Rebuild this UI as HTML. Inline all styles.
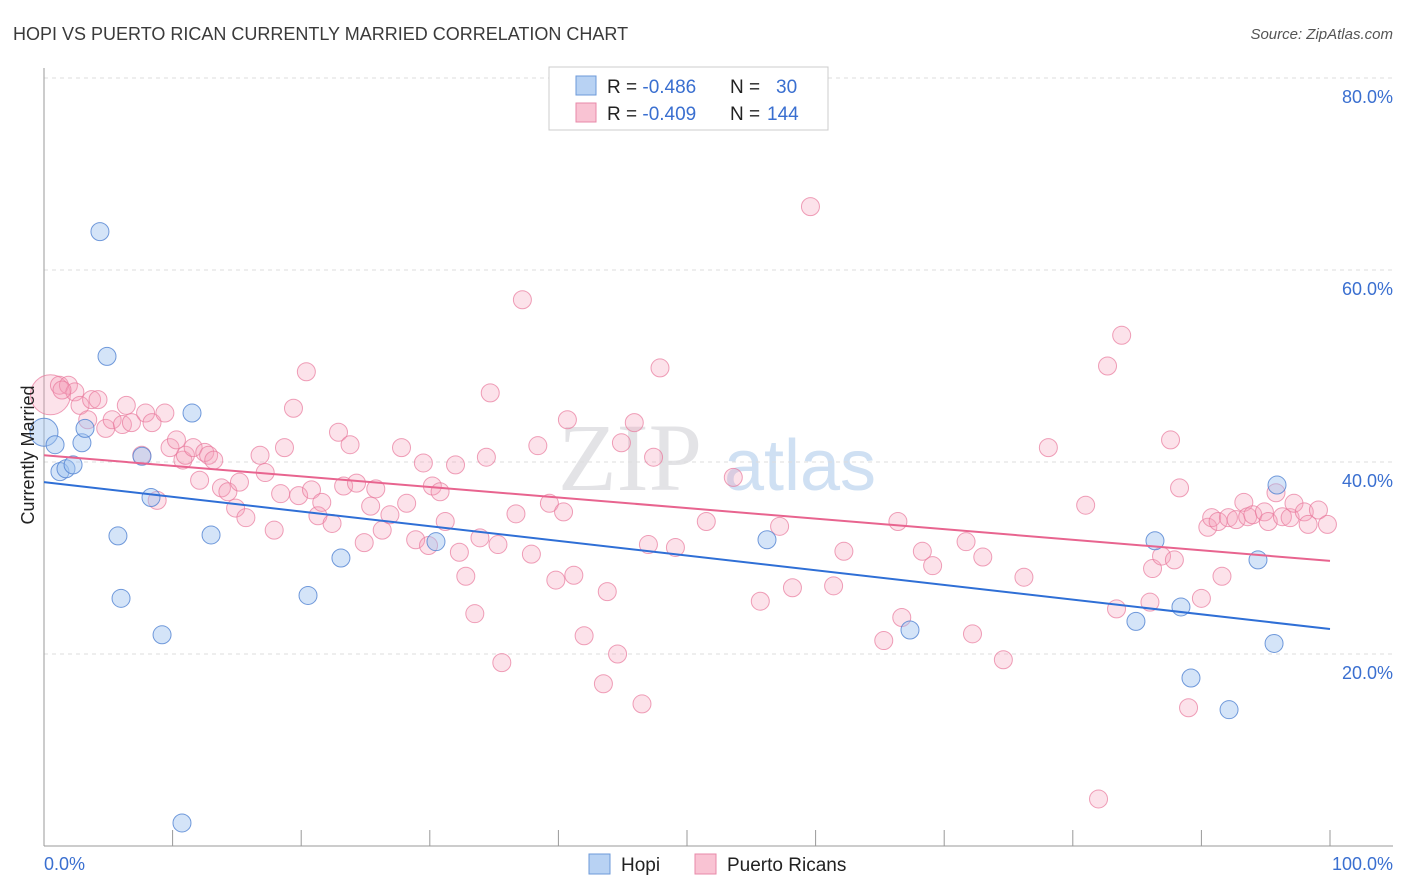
<!DOCTYPE html>
<html><head><meta charset="utf-8"><style>
body{margin:0;background:#fff;font-family:"Liberation Sans",sans-serif;}
#wrap{position:relative;width:1406px;height:892px;overflow:hidden;}
</style></head><body>
<div id="wrap">
<svg id="chart" width="1406" height="892">
<text x="13" y="40" font-size="18" fill="#3a3a3a">HOPI VS PUERTO RICAN CURRENTLY MARRIED CORRELATION CHART</text>
<text x="1393" y="39" font-size="15" font-style="italic" fill="#555" text-anchor="end">Source: ZipAtlas.com</text>
<text x="630" y="490" font-size="96" font-family="Liberation Serif,serif" fill="#e3e3e6" text-anchor="middle">ZIP</text>
<text x="800" y="490" font-size="72" fill="#cfe0f3" text-anchor="middle">atlas</text>
<g id="grid"></g><g id="pts"></g><g id="lines"></g>
<text x="34" y="455" font-size="18" fill="#222" text-anchor="middle" transform="rotate(-90 34 455)">Currently Married</text>
<text x="44" y="870" font-size="18" fill="#3a6fd0">0.0%</text>
<text x="1393" y="870" font-size="18" fill="#3a6fd0" text-anchor="end">100.0%</text>
<g>
<rect x="549" y="67" width="279" height="63" fill="#fff" stroke="#ccc"/>
<rect x="576" y="76" width="20" height="19" fill="#b8d2f3" stroke="#6d9ad8"/>
<rect x="576" y="103" width="20" height="19" fill="#f9c3d3" stroke="#e88aa8"/>
<text x="607" y="93" font-size="19" fill="#222">R = <tspan fill="#3a6fd0">-0.486</tspan><tspan x="730">N = </tspan><tspan x="776" fill="#3a6fd0">30</tspan></text>
<text x="607" y="120" font-size="19" fill="#222">R = <tspan fill="#3a6fd0">-0.409</tspan><tspan x="730">N = </tspan><tspan x="767" fill="#3a6fd0">144</tspan></text>
</g>
<g>
<rect x="589" y="854" width="21" height="20" fill="#b8d2f3" stroke="#6d9ad8"/>
<text x="621" y="871" font-size="19" fill="#222">Hopi</text>
<rect x="695" y="854" width="21" height="20" fill="#f9c3d3" stroke="#e88aa8"/>
<text x="727" y="871" font-size="19" fill="#222">Puerto Ricans</text>
</g>
</svg>
</div>
<script>
const yTicks=[20,40,60,80];
const xTicks=[0,10,20,30,40,50,60,70,80,90,100];
const hopiX=[0,0.86,1.24,1.71,2.26,2.95,3.19,4.35,4.9,5.75,5.99,7.62,8.32,9.18,10.73,11.51,12.99,20.53,23.09,30.48,56.22,67.34,84.91,86.39,88.41,89.19,92.15,94.4,95.65,95.88];
const hopiY=[43.1,41.8,39.0,39.3,39.7,42.0,43.5,64.0,51.0,32.3,25.8,40.6,36.3,22.0,2.4,45.1,32.4,26.1,30.0,31.7,31.9,22.5,23.4,31.8,24.9,17.5,14.2,29.8,21.1,37.6];
const prX=[0.5,1.2,1.9,2.4,1.4,2.8,3.7,4.2,3.4,4.8,5.3,6.1,6.4,6.8,7.6,7.9,8.4,8.8,9.4,9.8,10.3,10.8,11.0,11.6,12.1,12.5,12.8,13.2,13.8,14.3,14.9,15.2,15.7,16.8,17.2,17.9,18.4,18.7,19.4,19.8,20.4,20.8,21.3,21.6,22.4,22.9,23.3,23.8,24.3,24.9,25.4,25.8,26.3,26.9,27.8,28.2,28.9,29.5,29.9,30.2,30.8,31.2,32.0,32.3,32.8,33.5,33.9,34.4,34.7,35.3,35.6,36.7,37.2,37.9,38.4,39.3,39.8,40.4,40.7,41.2,42.0,43.5,43.8,44.6,44.9,45.9,46.5,47.0,47.4,47.9,49.1,51.5,53.6,55.7,57.2,58.2,59.6,61.4,62.2,65.3,66.4,66.7,68.3,69.1,71.7,72.2,73.0,74.6,76.2,78.1,81.0,82.0,82.7,83.4,83.8,86.0,86.2,86.9,87.6,87.9,88.3,89.0,90.0,90.5,90.8,91.3,91.6,92.1,92.7,93.3,93.6,94.0,94.9,95.2,95.8,96.3,96.9,97.2,98.0,98.3,99.1,99.8];
const prY=[47.0,48.0,48.0,47.3,47.5,45.9,46.5,46.5,44.4,43.5,44.4,43.9,45.9,44.1,40.7,45.1,44.1,36.0,45.1,41.5,42.3,40.2,40.7,41.5,38.1,41.0,40.7,40.2,37.3,36.9,35.2,37.9,34.2,40.7,38.9,32.9,36.7,41.5,45.6,36.5,49.4,37.1,34.4,35.8,33.6,43.1,37.5,41.8,37.8,31.6,35.4,37.2,32.9,34.5,41.5,35.7,31.9,39.9,31.3,37.5,36.9,33.8,39.7,30.6,28.1,24.2,32.1,40.5,47.2,31.4,19.1,34.6,56.9,30.4,41.7,35.7,27.7,34.8,44.4,28.2,21.9,16.9,26.5,20.0,42.0,44.1,14.8,31.4,40.5,49.8,31.1,33.8,38.4,25.5,33.3,26.9,66.6,27.1,30.7,21.4,33.8,23.8,30.7,29.2,31.7,22.1,30.1,19.4,28.0,41.5,35.5,4.9,50.0,24.7,53.2,25.4,28.9,30.2,42.3,29.8,37.3,14.4,25.8,33.2,34.2,33.8,28.1,34.2,34.0,35.8,34.3,34.5,34.8,33.8,36.8,34.3,34.2,35.7,34.8,33.5,35.0,33.5];
const hopiTrend=[37.9,22.6];
const prTrend=[40.7,29.7];
const NS="http://www.w3.org/2000/svg";
const X0=44,X1=1330,Y0=846,YPX=9.6;
function sx(v){return X0+(X1-X0)*v/100;}
function sy(v){return Y0-v*YPX;}
function mk(tag,attrs,parent){const e=document.createElementNS(NS,tag);for(const k in attrs)e.setAttribute(k,attrs[k]);parent.appendChild(e);return e;}
const grid=document.getElementById('grid');
yTicks.forEach(t=>{
 const l=mk('line',{x1:X0,x2:1393,y1:sy(t),y2:sy(t),stroke:'#ddd','stroke-dasharray':'4,4'},grid);
 
 
 const tx=mk('text',{x:1393,y:sy(t)+25,'font-size':18,fill:'#3a6fd0','text-anchor':'end'},grid);
 tx.textContent=t.toFixed(1)+'%';
 
 
});
const ax=mk('line',{x1:X0,x2:1393,y1:Y0,y2:Y0,stroke:'#999'},grid);


const ay=mk('line',{x1:X0,x2:X0,y1:68,y2:Y0,stroke:'#999'},grid);


xTicks.forEach(t=>{
 const l=mk('line',{x1:sx(t),x2:sx(t),y1:Y0-16,y2:Y0,stroke:'#999'},grid);
 
 
});
const pts=document.getElementById('pts');
prX.forEach((x,i)=>{
 const c=mk('circle',{cx:sx(x),cy:sy(prY[i]),r:i===0?20:9,fill:'rgba(244,160,185,0.3)',stroke:'rgba(232,120,155,0.7)','stroke-width':1},pts);
 
 
});
hopiX.forEach((x,i)=>{
 const c=mk('circle',{cx:sx(x),cy:sy(hopiY[i]),r:i===0?14:9,fill:'rgba(160,195,240,0.45)',stroke:'rgba(80,130,210,0.8)','stroke-width':1},pts);
 
 
});
const lines=document.getElementById('lines');
const lb=mk('line',{x1:sx(0),x2:sx(100),y1:sy(hopiTrend[0]),y2:sy(hopiTrend[1]),stroke:'#2f6fd6','stroke-width':2},lines);


const lp=mk('line',{x1:sx(0),x2:sx(100),y1:sy(prTrend[0]),y2:sy(prTrend[1]),stroke:'#e8648f','stroke-width':2},lines);


</script>
</body></html>
